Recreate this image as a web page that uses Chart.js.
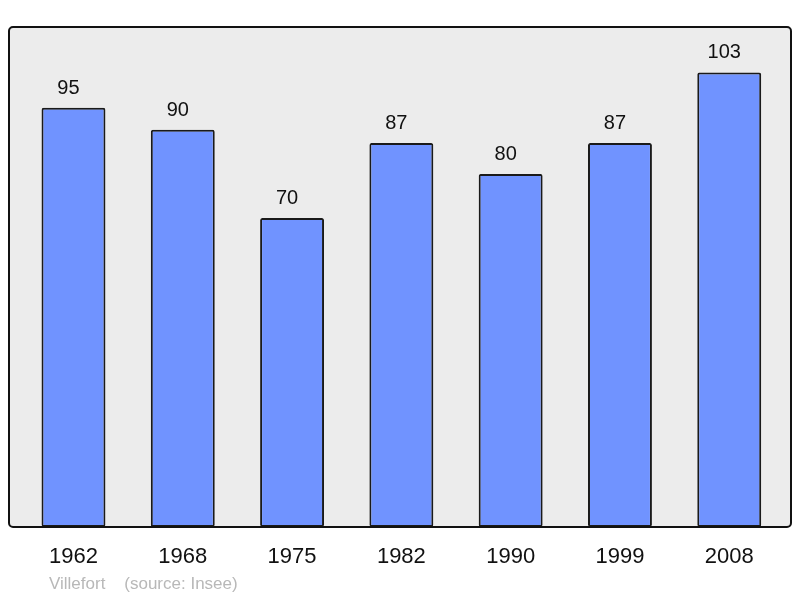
<!DOCTYPE html>
<html>
<head>
<meta charset="utf-8">
<script src="https://cdn.jsdelivr.net/npm/chart.js@4/dist/chart.umd.min.js"></script>
<style>
html,body{margin:0;padding:0;background:#fff;}
#wrap{width:800px;height:598px;}
</style>
</head>
<body>
<div id="wrap"><canvas id="c" width="800" height="598"></canvas></div>
<script>
const categories = ["1962", "1968", "1975", "1982", "1990", "1999", "2008"];
const population = [95, 90, 70, 87, 80, 87, 103];
const sourceText = "Villefort    (source: Insee)";

const points = population.map((v, i) => ({ x: i, y: v }));

const boxPlugin = {
  id: 'boxPlugin',
  beforeDatasetsDraw(chart) {
    const { ctx, chartArea: a } = chart;
    ctx.save();
    ctx.beginPath();
    ctx.roundRect(a.left, a.top, a.right - a.left, a.bottom - a.top, 4);
    ctx.fillStyle = '#ececec';
    ctx.fill();
    ctx.restore();
  },
  afterDatasetsDraw(chart) {
    const { ctx, chartArea: a } = chart;
    ctx.save();
    const meta = chart.getDatasetMeta(0);
    ctx.font = '20px "Liberation Sans", Arial, sans-serif';
    ctx.fillStyle = '#111';
    ctx.textAlign = 'center';
    ctx.textBaseline = 'alphabetic';
    meta.data.forEach((bar, i) => {
      ctx.fillText(String(population[i]), bar.x - 5, bar.y - 14);
    });
    ctx.beginPath();
    ctx.roundRect(a.left, a.top, a.right - a.left, a.bottom - a.top, 4);
    ctx.lineWidth = 2;
    ctx.strokeStyle = '#111';
    ctx.stroke();
    ctx.font = '17px "Liberation Sans", Arial, sans-serif';
    ctx.fillStyle = '#b8b8b8';
    ctx.textAlign = 'left';
    ctx.textBaseline = 'middle';
    ctx.fillText(sourceText, a.left + 40, a.bottom + 57);
    ctx.restore();
  }
};

new Chart(document.getElementById('c'), {
  type: 'bar',
  data: {
    datasets: [{
      data: points,
      backgroundColor: '#7093ff',
      borderColor: '#1a1a1a',
      borderWidth: 2,
      borderSkipped: false,
      borderRadius: 2,
      barPercentage: 0.585,
      categoryPercentage: 1
    }]
  },
  options: {
    responsive: false,
    animation: false,
    devicePixelRatio: 1,
    layout: { padding: { left: 9, right: 9, top: 27, bottom: 10.6 } },
    plugins: { legend: { display: false }, tooltip: { enabled: false } },
    scales: {
      x: {
        type: 'linear',
        offset: false,
        min: -0.59,
        max: 6.565,
        grid: { display: false, drawTicks: false },
        border: { display: false },
        afterBuildTicks(axis) { axis.ticks = categories.map((_, i) => ({ value: i })); },
        ticks: {
          padding: 17,
          color: '#111',
          font: { family: '"Liberation Sans", Arial, sans-serif', size: 22 },
          callback: (v) => categories[v] ?? ''
        }
      },
      y: {
        display: false,
        min: 0,
        max: 113.3
      }
    }
  },
  plugins: [boxPlugin]
});
</script>
</body>
</html>
